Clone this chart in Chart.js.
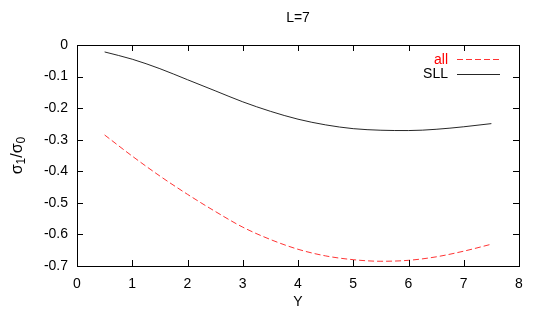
<!DOCTYPE html>
<html><head><meta charset="utf-8">
<script src="https://cdn.jsdelivr.net/npm/chart.js@4"></script>
<style>html,body{margin:0;padding:0;background:#fff}#wrap{width:545px;height:312px}</style>
</head><body><div id="wrap"><canvas id="c"></canvas></div>
<script>
const xValues = [0.5,1,1.5,2,2.5,3,3.5,4,4.5,5,5.5,6,6.5,7,7.5];
const allValues = [-0.285,-0.352,-0.415,-0.473,-0.527,-0.577,-0.616,-0.647,-0.668,-0.680,-0.685,-0.682,-0.671,-0.653,-0.631];
const sllValues = [-0.022,-0.045,-0.075,-0.110,-0.145,-0.180,-0.210,-0.235,-0.253,-0.265,-0.270,-0.271,-0.267,-0.259,-0.249];
const xTicks = [0,1,2,3,4,5,6,7,8];
const yTicks = [0,-0.1,-0.2,-0.3,-0.4,-0.5,-0.6,-0.7];
const seriesNames = ['all','SLL'];
const FONT = '"Liberation Sans", Arial, sans-serif';
const RED = 'rgba(255,0,0,0.8)', BLACK = 'rgba(0,0,0,0.85)';

const pts = (ys) => xValues.map((x,i)=>({x:x,y:ys[i]}));

const deco = {
  id:'deco',
  afterDraw(chart){
    const ctx = chart.ctx, a = chart.chartArea;
    const xs = chart.scales.x, ys = chart.scales.y;
    ctx.save();
    ctx.strokeStyle = '#000'; ctx.lineWidth = 1;
    ctx.strokeRect(Math.round(a.left)+0.5, Math.round(a.top)+0.5, Math.round(a.right-a.left), Math.round(a.bottom-a.top));
    ctx.beginPath();
    const L = 6;
    xTicks.forEach(v=>{ const p = Math.round(xs.getPixelForValue(v))+0.5;
      ctx.moveTo(p,a.bottom); ctx.lineTo(p,a.bottom-L);
      ctx.moveTo(p,a.top); ctx.lineTo(p,a.top+L); });
    yTicks.forEach(v=>{ const p = Math.round(ys.getPixelForValue(v))+0.5;
      ctx.moveTo(a.left,p); ctx.lineTo(a.left+L,p);
      ctx.moveTo(a.right,p); ctx.lineTo(a.right-L,p); });
    ctx.stroke();
    ctx.fillStyle = '#000';
    ctx.font = '14px '+FONT; ctx.textAlign='center'; ctx.textBaseline='middle';
    ctx.fillText('L=7', (a.left+a.right)/2, 18);
    ctx.fillText('Y', (a.left+a.right)/2, 302);
    ctx.save();
    ctx.translate(18, (a.top+a.bottom)/2);
    ctx.rotate(-Math.PI/2);
    const big = '16px '+FONT, small = '12px '+FONT;
    const parts = [['σ',big,0],['1',small,4],['/',big,0],['σ',big,0],['0',small,4]];
    let w = 0; parts.forEach(p=>{ctx.font=p[1]; w+=ctx.measureText(p[0]).width;});
    let x = -w/2; ctx.textAlign='left'; ctx.textBaseline='middle';
    parts.forEach(p=>{ctx.font=p[1]; ctx.fillText(p[0], x, p[2]); x+=ctx.measureText(p[0]).width;});
    ctx.restore();
    ctx.font = '14px '+FONT; ctx.textAlign='right'; ctx.textBaseline='middle';
    ctx.fillStyle = '#ff0000'; ctx.fillText(seriesNames[0], 448, 60);
    ctx.fillStyle = '#000'; ctx.fillText(seriesNames[1], 448, 74);
    ctx.lineWidth = 1;
    ctx.strokeStyle = RED; ctx.setLineDash([6,3]);
    ctx.beginPath(); ctx.moveTo(457,59.5); ctx.lineTo(499,59.5); ctx.stroke();
    ctx.setLineDash([]); ctx.strokeStyle = BLACK;
    ctx.beginPath(); ctx.moveTo(457,74.5); ctx.lineTo(500,74.5); ctx.stroke();
    ctx.restore();
  }
};

new Chart(document.getElementById('c'), {
  type:'scatter',
  data:{datasets:[
    {label:seriesNames[0], data:pts(allValues), showLine:true, borderColor:RED, borderWidth:1, borderDash:[6,3], pointRadius:0, tension:0.4, cubicInterpolationMode:'monotone', fill:false},
    {label:seriesNames[1], data:pts(sllValues), showLine:true, borderColor:BLACK, borderWidth:1, pointRadius:0, tension:0.4, cubicInterpolationMode:'monotone', fill:false}
  ]},
  options:{
    responsive:true, maintainAspectRatio:false, animation:false, devicePixelRatio:1,
    layout:{padding:{top:45,right:26,left:0,bottom:0}},
    plugins:{legend:{display:false}, title:{display:false}, tooltip:{enabled:false}},
    scales:{
      x:{type:'linear', min:0, max:8,
        afterBuildTicks(s){ s.ticks = xTicks.map(v=>({value:v})); },
        afterFit(s){ s.height = 46; },
        grid:{display:false, drawTicks:false}, border:{display:false},
        ticks:{color:'#000', font:{family:FONT, size:14}, padding:10, maxRotation:0, autoSkip:false}
      },
      y:{type:'linear', min:-0.7, max:0,
        afterBuildTicks(s){ s.ticks = yTicks.map(v=>({value:v})); },
        afterFit(s){ s.width = 77; },
        grid:{display:false, drawTicks:false}, border:{display:false},
        ticks:{color:'#000', font:{family:FONT, size:14}, padding:9, autoSkip:false,
          callback:(v)=> v===0 ? '0' : String(Math.round(v*10)/10)}
      }
    }
  },
  plugins:[deco]
});
</script></body></html>
